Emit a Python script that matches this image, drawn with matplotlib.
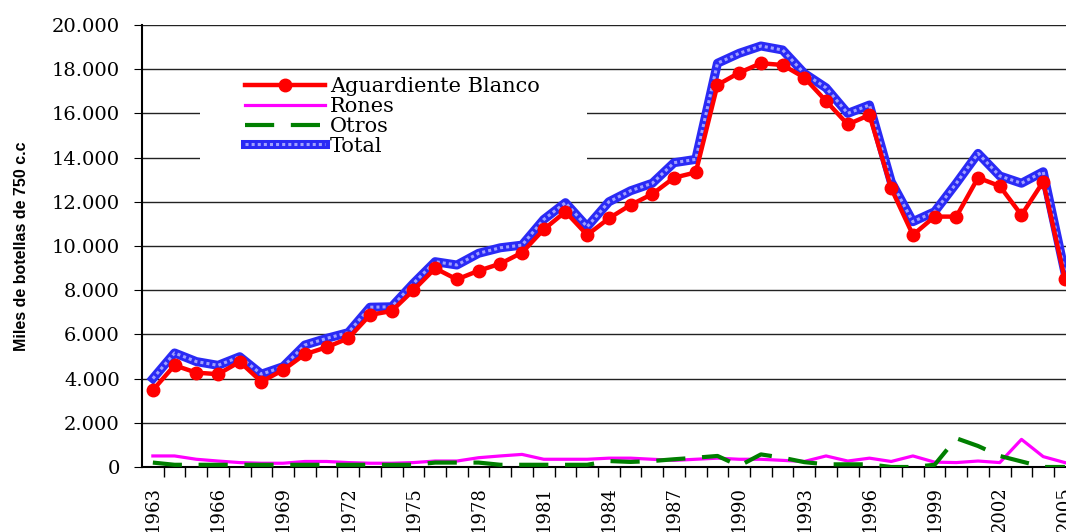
import matplotlib.pyplot as plt
from matplotlib.patches import Rectangle
from matplotlib.ticker import FuncFormatter, MultipleLocator

# Datos (miles de botellas de 750 c.c)
years = list(range(1963, 2006))
aguardiente = [3480, 4600, 4270, 4200, 4760, 3860, 4390, 5100, 5420, 5820,
               6880, 7060, 8000, 8990, 8490, 8880, 9200, 9700, 10750, 11550,
               10500, 11250, 11860, 12350, 13090, 13330, 17290, 17840, 18270, 18190,
               17620, 16560, 15500, 15930, 12610, 10500, 11330, 11330, 13090, 12710,
               11400, 12910, 8490]
rones = [500, 500, 350, 270, 200, 170, 170, 250, 250, 200,
         170, 170, 200, 270, 270, 420, 500, 570, 350, 350,
         350, 400, 400, 350, 300, 350, 400, 350, 350, 300,
         250, 500, 270, 400, 250, 500, 220, 200, 270, 200,
         1250, 470, 200]
otros = [200, 100, 100, 100, 100, 100, 100, 100, 100, 100,
         100, 100, 100, 200, 200, 200, 100, 100, 100, 100,
         100, 270, 230, 270, 350, 420, 500, 50, 570, 420,
         220, 120, 120, 120, 0, 0, 100, 1300, 950, 500,
         250, 0, 0]
total = [4000, 5160, 4770, 4600, 4990, 4200, 4540, 5520, 5820, 6080,
         7230, 7250, 8310, 9290, 9140, 9670, 9920, 10040, 11200, 11960,
         10870, 12000, 12500, 12840, 13770, 13920, 18270, 18720, 19050, 18870,
         17810, 17160, 16000, 16380, 12910, 11100, 11550, 12840, 14190, 13170,
         12840, 13360, 8800]

plt.rcParams['font.family'] = ['DejaVu Serif']

fig = plt.figure(figsize=(10.66, 5.32), dpi=100)
ax = fig.add_axes([142 / 1066, 1 - 467 / 532, 1 - 142 / 1066, (467 - 25) / 532])

t1, = ax.plot(years, total, color='#2a2af5', lw=6.5, zorder=2)
t2, = ax.plot(years, total, color='#a0a0ff', lw=2.2, ls=(0, (1, 1)), zorder=2.1)
ag, = ax.plot(years, aguardiente, color='#ff0000', lw=3.2, marker='o', markersize=9, zorder=3)
ro, = ax.plot(years, rones, color='#ff00ff', lw=2.3, zorder=2.5)
ot, = ax.plot(years, otros, color='#007f00', lw=3, ls=(0, (7, 4)), zorder=2.6)

ax.set_xlim(1962.5, 2005.05)
ax.set_ylim(0, 20000)
ax.yaxis.set_major_locator(MultipleLocator(2000))
ax.yaxis.set_major_formatter(FuncFormatter(lambda v, p: f"{int(v):,}".replace(",", ".")))
ax.grid(axis='y', color='#222222', lw=1)
ax.set_axisbelow(True)

ax.set_xticks(years[::3])
ax.set_xticklabels([str(y) for y in years[::3]], rotation=90)
ax.set_xticks([y + 0.5 for y in years[:-1]], minor=True)
ax.tick_params(axis='x', which='major', length=0, labelsize=13, pad=14)
ax.tick_params(axis='x', which='minor', length=7, width=1, direction='out')
ax.tick_params(axis='y', length=6, labelsize=14, direction='out', pad=10)

for s in ['top', 'right']:
    ax.spines[s].set_visible(False)
ax.spines['left'].set_linewidth(1.5)
ax.spines['bottom'].set_linewidth(1.5)

ax.set_ylabel("Miles de botellas de 750 c.c", family='Liberation Sans',
              fontweight='bold', fontsize=11.5, labelpad=16)

# fondo blanco de la leyenda
ax.add_patch(Rectangle((0.063, 0.69), 0.419, 0.15, transform=ax.transAxes,
                       facecolor='white', edgecolor='none', zorder=1))

leg = ax.legend([ag, ro, ot, (t1, t2)], ["Aguardiente Blanco", "Rones", "Otros", "Total"],
                loc='upper left', bbox_to_anchor=(0.111, 0.882), frameon=False,
                fontsize=15, handlelength=3.85, labelspacing=0.04, handletextpad=0.25,
                borderpad=0, borderaxespad=0)

plt.savefig("out.png", dpi=100)
